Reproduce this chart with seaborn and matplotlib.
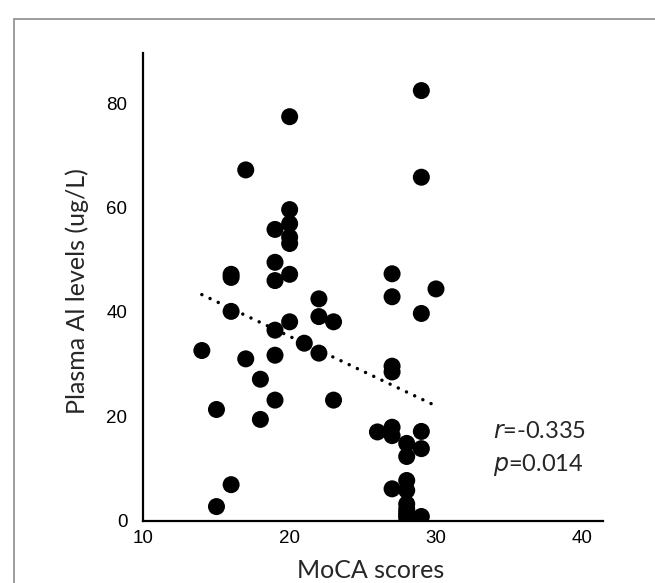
import matplotlib
matplotlib.use('Agg')
import matplotlib.pyplot as plt
import matplotlib.patches as patches
import seaborn as sb
import pandas as pd

# MoCA score vs plasma Al
# (the 28 column near zero holds a couple of overlapping points)
moca = [14,
        15, 15,
        16, 16, 16, 16,
        17, 17,
        18, 18,
        19, 19, 19, 19, 19, 19,
        20, 20, 20, 20, 20, 20, 20,
        21,
        22, 22, 22,
        23, 23,
        26,
        27, 27, 27, 27, 27, 27, 27,
        28, 28, 28, 28, 28, 28, 28, 28, 28,
        29, 29, 29, 29, 29, 29,
        30]
plasma_al = [32.6,
             21.3, 2.7,
             47.2, 46.6, 40.1, 6.9,
             67.2, 31.0,
             27.1, 19.4,
             55.8, 49.5, 46.0, 36.5, 31.7, 23.1,
             77.4, 59.6, 56.9, 54.3, 53.1, 47.2, 38.1,
             34.0,
             42.5, 39.1, 32.1,
             38.1, 23.1,
             17.0,
             47.3, 42.9, 29.6, 28.5, 17.9, 16.3, 6.1,
             14.8, 12.3, 7.7, 5.8, 3.2, 2.2, 1.5, 1.0, 0.5,
             82.4, 65.8, 39.7, 17.1, 13.8, 0.8,
             44.4]
x_ticks = [10, 20, 30, 40]
y_ticks = [0, 20, 40, 60, 80]
stats_text = ['$\\it{r}$=-0.335', '$\\it{p}$=0.014']

df = pd.DataFrame({'moca': moca, 'al': plasma_al})

sb.set_style('white')
plt.rcParams['font.family'] = ['Liberation Sans', 'DejaVu Sans']

fig = plt.figure(figsize=(6.55, 5.83), dpi=100)
ax = fig.add_axes([0.2188, 0.1069, 0.9203 - 0.2188, 0.9091 - 0.1069])

# scatter + dotted linear fit
sb.regplot(data=df, x='moca', y='al', ax=ax, ci=None,
           scatter_kws={'s': 150, 'color': 'black', 'edgecolor': 'none', 'alpha': 1},
           line_kws={'color': 'black', 'linewidth': 2.5, 'linestyle': (0, (0.01, 2.6)),
                     'dash_capstyle': 'round'})

ax.set_xlim(10, 41.4)
ax.set_ylim(0, 89.6)
ax.set_xticks(x_ticks)
ax.set_yticks(y_ticks)
ax.tick_params(axis='x', direction='in', length=5, width=1.3, labelsize=13.5, pad=7, colors='black')
ax.tick_params(axis='y', direction='out', length=3, width=1.3, labelsize=13.5, pad=8.5, colors='black')
for s in ['top', 'right']:
    ax.spines[s].set_visible(False)
for s in ['left', 'bottom']:
    ax.spines[s].set_color('black')
    ax.spines[s].set_linewidth(1.6)

ax.set_xlabel('MoCA scores', fontsize=18, family=['Lato', 'DejaVu Sans'], va='center')
ax.set_ylabel('Plasma Al levels (ug/L)', fontsize=18, family=['Lato', 'DejaVu Sans'], va='center')
ax.xaxis.set_label_coords(0.495, -0.106)
ax.yaxis.set_label_coords(-0.144, 0.491)

# r and p annotation
ax.text(0.76, 0.19, stats_text[0], transform=ax.transAxes, fontsize=17,
        family=['Lato', 'DejaVu Sans'], va='center', ha='left')
ax.text(0.76, 0.12, stats_text[1], transform=ax.transAxes, fontsize=17,
        family=['Lato', 'DejaVu Sans'], va='center', ha='left')

# grey frame around the chart area, cut off at right and bottom
frame = patches.Rectangle((14 / 655, -0.05), 1.0, 1 - 19 / 583 + 0.05,
                          transform=fig.transFigure, fill=False,
                          edgecolor='#8c8c8c', linewidth=1.2)
fig.patches.append(frame)

plt.savefig('out.png', dpi=100)
